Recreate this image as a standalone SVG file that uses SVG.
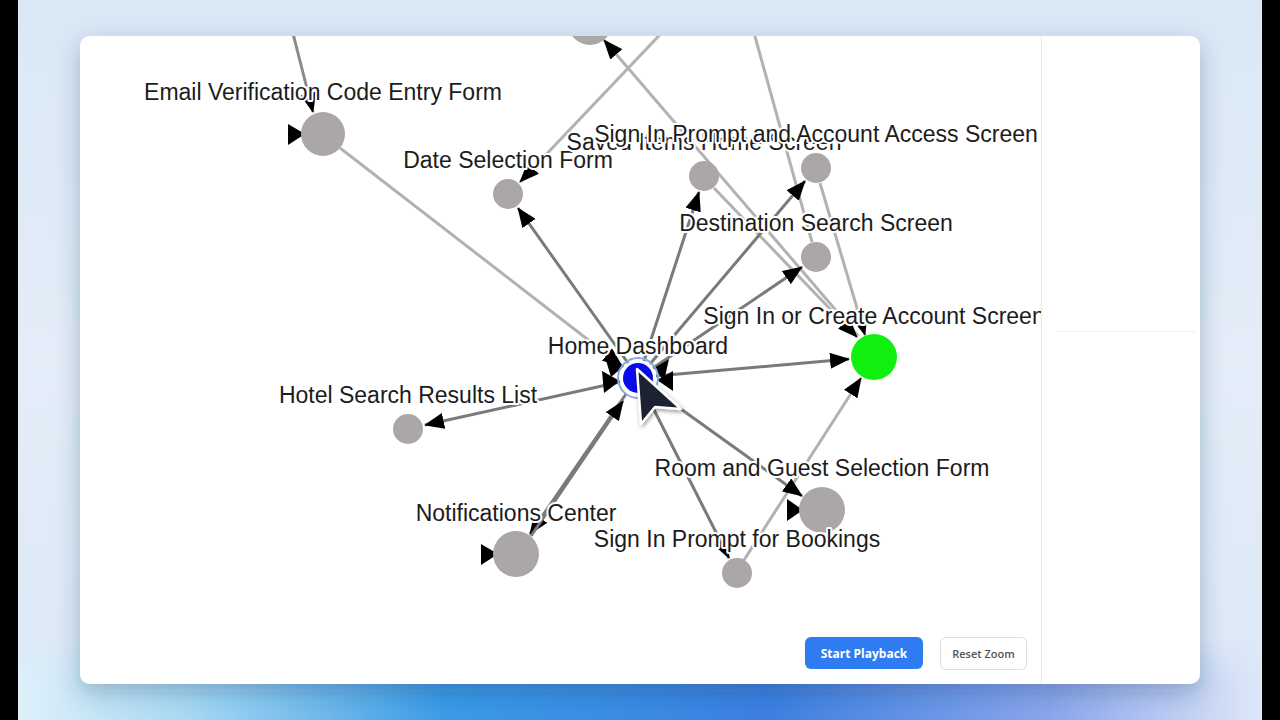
<svg xmlns="http://www.w3.org/2000/svg" width="1280" height="720" viewBox="0 0 1280 720">
<defs>
  <linearGradient id="bgV" x1="0" y1="0" x2="0" y2="1">
    <stop offset="0" stop-color="#dae8f6"/>
    <stop offset="0.5" stop-color="#e4edf8"/>
    <stop offset="1" stop-color="#dce9f7"/>
  </linearGradient>
  <linearGradient id="bgH" x1="0" y1="0" x2="1" y2="0">
    <stop offset="0" stop-color="#e4f3fb"/>
    <stop offset="0.15" stop-color="#a6d9f3"/>
    <stop offset="0.35" stop-color="#3a9be8"/>
    <stop offset="0.6" stop-color="#3c80e2"/>
    <stop offset="0.82" stop-color="#8aa6ec"/>
    <stop offset="1" stop-color="#e6edf9"/>
  </linearGradient>
  <linearGradient id="fadeV" x1="0" y1="0" x2="0" y2="1">
    <stop offset="0" stop-color="#fff" stop-opacity="0"/>
    <stop offset="0.55" stop-color="#fff" stop-opacity="1"/>
    <stop offset="1" stop-color="#fff" stop-opacity="1"/>
  </linearGradient>
  <mask id="bottomMask">
    <rect x="0" y="640" width="1280" height="80" fill="url(#fadeV)"/>
  </mask>
  <filter id="shadow" x="-10%" y="-10%" width="120%" height="125%">
    <feDropShadow dx="0" dy="8" stdDeviation="12" flood-color="#1c3560" flood-opacity="0.3"/>
  </filter>
  <filter id="curShadow" x="-50%" y="-50%" width="200%" height="200%">
    <feDropShadow dx="1" dy="2" stdDeviation="2" flood-color="#000" flood-opacity="0.4"/>
  </filter>
  <clipPath id="graphClip">
    <rect x="80" y="36" width="961" height="648"/>
  </clipPath>
  <marker id="arr" viewBox="0 0 20 16" refX="19" refY="8" markerWidth="20" markerHeight="16" markerUnits="userSpaceOnUse" orient="auto">
    <path d="M0,0 L20,8 L0,16 z" fill="#000"/>
  </marker>
  <style>
    .lbl { font-family: "Liberation Sans", Arial, sans-serif; font-size: 23px; fill: #1c1c1c; text-anchor: middle; paint-order: stroke; stroke: #ffffff; stroke-width: 4px; stroke-linejoin: round; }
    .node { fill: #aaa7a6; }
    .dark { stroke: #7a7a7a; stroke-width: 3; fill: none; }
    .light { stroke: #b2b2b2; stroke-width: 3; fill: none; }
    .mid { stroke: #8c8c8c; stroke-width: 3; fill: none; }
    .btn { font-family: "Open Sans", "Liberation Sans", sans-serif; text-anchor: middle; }
  </style>
</defs>

<!-- background -->
<rect x="0" y="0" width="1280" height="720" fill="url(#bgV)"/>
<rect x="0" y="640" width="1280" height="80" fill="url(#bgH)" mask="url(#bottomMask)"/>
<rect x="0" y="0" width="18" height="720" fill="#000"/>
<rect x="1262" y="0" width="18" height="720" fill="#000"/>

<!-- card -->
<rect x="80" y="36" width="1120" height="648" rx="10" fill="#ffffff" filter="url(#shadow)"/>
<line x1="1041.5" y1="36" x2="1041.5" y2="684" stroke="#e8e8e8" stroke-width="1"/>
<line x1="1056" y1="331.5" x2="1197" y2="331.5" stroke="#f1f1f1" stroke-width="1"/>

<g clip-path="url(#graphClip)">
  <g id="connectors">
    <!-- light edges -->
    <line class="mid" x1="287" y1="10" x2="313" y2="112" marker-end="url(#arr)"/>
    <line class="light" x1="340" y1="148" x2="622" y2="366" marker-end="url(#arr)"/>
    <line class="light" x1="672" y1="22" x2="520" y2="182" marker-end="url(#arr)"/>
    <line class="light" x1="858" y1="336" x2="604" y2="40" marker-end="url(#arr)"/>
    <line class="light" x1="751" y1="22" x2="812" y2="242"/>
    <line class="light" x1="714" y1="188" x2="857" y2="337" marker-end="url(#arr)"/>
    <line class="light" x1="820" y1="183" x2="865" y2="335" marker-end="url(#arr)"/>
    <line class="light" x1="744" y1="560" x2="861" y2="378" marker-end="url(#arr)"/>
    <!-- dark edges from Home Dashboard -->
    <line class="dark" x1="628" y1="363" x2="518" y2="208" marker-end="url(#arr)"/>
    <line class="dark" x1="644" y1="361" x2="699" y2="192" marker-end="url(#arr)"/>
    <line class="dark" x1="650" y1="364" x2="805" y2="181" marker-end="url(#arr)"/>
    <line class="dark" x1="653" y1="368" x2="802" y2="267" marker-end="url(#arr)"/>
    <line class="dark" x1="656" y1="376" x2="849" y2="359" marker-end="url(#arr)"/>
    <line class="dark" x1="620" y1="382" x2="425" y2="425" marker-end="url(#arr)"/>
    <line class="dark" x1="626" y1="394" x2="530" y2="534" marker-end="url(#arr)"/>
    <line class="dark" x1="531" y1="536" x2="623" y2="401" marker-end="url(#arr)"/>
    <line class="dark" x1="646" y1="394" x2="729" y2="558" marker-end="url(#arr)"/>
    <line class="dark" x1="653" y1="389" x2="802" y2="496" marker-end="url(#arr)"/>
    <!-- standalone arrowheads -->
    <path d="M288,124 L305,134 L288,145 z" fill="#000"/>
    <path d="M481,544 L498,554 L481,565 z" fill="#000"/>
    <path d="M787,499 L803,510 L787,521 z" fill="#000"/>
    <path d="M602,371 L620,381 L604,393 z" fill="#000"/>
    <path d="M605,357 L624,366 L611,377 z" fill="#000"/>
    <path d="M673,371 L657,380 L673,391 z" fill="#000"/>
    <path d="M669,359 L654,368 L664,381 z" fill="#000"/>
  </g>

  <g id="node-top">
    <circle class="node" cx="590" cy="23" r="22"/>
  </g>
  <g id="node-email">
    <circle class="node" cx="323" cy="134" r="22"/>
    <text class="lbl" x="323" y="100">Email Verification Code Entry Form</text>
  </g>
  <g id="node-date">
    <circle class="node" cx="508" cy="194" r="15"/>
    <text class="lbl" x="508" y="168">Date Selection Form</text>
  </g>
  <g id="node-saved">
    <circle class="node" cx="704" cy="176" r="15"/>
    <text class="lbl" x="704" y="150">Saved Items Home Screen</text>
  </g>
  <g id="node-signin-access">
    <circle class="node" cx="816" cy="168" r="15"/>
    <text class="lbl" x="816" y="142">Sign In Prompt and Account Access Screen</text>
  </g>
  <g id="node-destination">
    <circle class="node" cx="816" cy="257" r="15"/>
    <text class="lbl" x="816" y="231">Destination Search Screen</text>
  </g>
  <g id="node-signin-create">
    <circle cx="874" cy="357" r="23" fill="#0ff00f"/>
    <text class="lbl" x="874" y="324">Sign In or Create Account Screen</text>
  </g>
  <g id="node-home">
    <circle cx="638" cy="378" r="15" fill="#0a0aee"/>
    <circle cx="638" cy="378" r="20" fill="none" stroke="#86a9e6" stroke-width="2"/>
    <text class="lbl" x="638" y="354">Home Dashboard</text>
  </g>
  <g id="node-hotel">
    <circle class="node" cx="408" cy="429" r="15"/>
    <text class="lbl" x="408" y="403">Hotel Search Results List</text>
  </g>
  <g id="node-room">
    <circle class="node" cx="822" cy="510" r="23"/>
    <text class="lbl" x="822" y="476">Room and Guest Selection Form</text>
  </g>
  <g id="node-notifications">
    <circle class="node" cx="516" cy="554" r="23"/>
    <text class="lbl" x="516" y="521">Notifications Center</text>
  </g>
  <g id="node-bookings">
    <circle class="node" cx="737" cy="573" r="15"/>
    <text class="lbl" x="737" y="547">Sign In Prompt for Bookings</text>
  </g>
</g>

<!-- cursor -->
<path d="M637,369 L641,424 L655,407 L681,409 Z" fill="#1e2230" stroke="#ffffff" stroke-width="2.5" stroke-linejoin="round" filter="url(#curShadow)"/>

<!-- buttons -->
<g id="btn-start">
  <rect x="805" y="637" width="118" height="32" rx="6" fill="#2f7cf2"/>
  <text class="btn" x="864" y="657.5" font-size="12" font-weight="700" fill="#ffffff">Start Playback</text>
</g>
<g id="btn-reset">
  <rect x="940.5" y="637.5" width="86" height="32" rx="5" fill="#ffffff" stroke="#dedede" stroke-width="1"/>
  <text class="btn" x="983.5" y="657.5" font-size="11" font-weight="600" fill="#555555">Reset Zoom</text>
</g>
</svg>
